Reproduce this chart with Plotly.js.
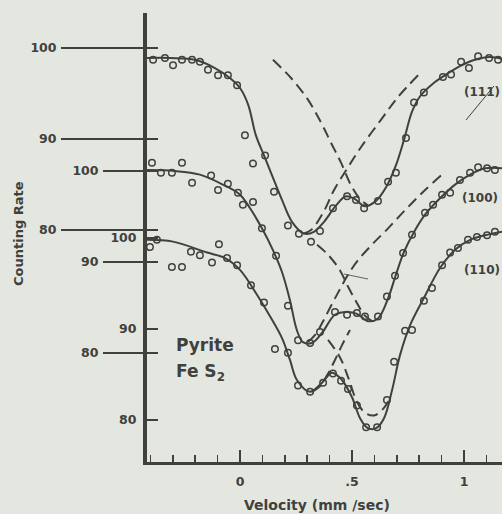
<!DOCTYPE html>
<html><head><meta charset="utf-8">
<script src="https://cdn.plot.ly/plotly-3.0.1.min.js"></script>
<style>html,body{margin:0;padding:0;background:#e4e7df;}#chart{width:502px;height:514px;}</style>
</head><body><div id="chart"></div>
<script>
// ---- Data (velocity in mm/sec, counting rate in % of baseline) ----
// (111) spectrum
const topX = [-0.388,-0.335,-0.299,-0.259,-0.214,-0.179,-0.143,-0.098,-0.054,-0.013,0.022,0.058,0.112,0.152,0.214,0.263,0.317,0.357,0.415,0.478,0.518,0.554,0.616,0.661,0.696,0.741,0.777,0.821,0.906,0.942,0.987,1.022,1.063,1.112,1.152];
const topY = [98.7,98.9,98.1,98.7,98.7,98.5,97.6,97.0,97.0,95.9,90.4,87.3,88.2,84.2,80.5,79.6,78.7,79.9,82.4,83.7,83.3,82.4,83.2,85.3,86.3,90.1,94.0,95.1,96.8,97.1,98.5,97.8,99.1,98.9,98.7];
const topFitX = [-0.415,-0.3125,-0.201,-0.112,-0.045,0,0.036,0.071,0.107,0.143,0.1875,0.232,0.286,0.330,0.375,0.429,0.473,0.513,0.558,0.607,0.652,0.696,0.732,0.768,0.804,0.857,0.915,0.982,1.049,1.116,1.170];
const topFitY = [98.9,98.9,98.7,97.8,96.7,95.6,93.8,90.4,88.2,86.0,83.3,80.9,79.6,79.8,80.9,82.7,83.7,83.4,82.6,83.2,84.7,87.1,89.9,93.0,94.7,96.0,97.0,98.0,98.7,99.0,98.8];
const topDashAX = [0.147,0.228,0.304,0.362,0.406,0.451,0.496,0.536,0.571];
const topDashAY = [98.7,96.7,94.3,91.8,89.6,87.4,84.9,83.4,82.7];
const topDashBX = [0.281,0.317,0.371,0.420,0.482,0.540,0.629,0.705,0.795];
const topDashBY = [79.6,80.0,81.9,84.4,86.9,89.1,92.1,94.6,97.0];

// (100) spectrum
const midX = [-0.393,-0.353,-0.304,-0.259,-0.214,-0.129,-0.098,-0.054,-0.009,0.013,0.058,0.098,0.161,0.214,0.259,0.313,0.357,0.424,0.478,0.522,0.558,0.616,0.656,0.692,0.728,0.768,0.826,0.862,0.902,0.938,0.982,1.027,1.063,1.103,1.138];
const midY = [100.9,99.8,99.8,100.9,98.7,99.5,97.9,98.6,97.6,96.3,96.6,93.7,90.7,85.2,81.4,81.1,82.3,84.5,84.2,84.4,84.0,84.0,86.2,88.5,91.0,93.0,95.4,96.3,97.4,97.6,99.0,99.8,100.4,100.3,100.1];
const midFitX = [-0.415,-0.290,-0.179,-0.076,0,0.045,0.098,0.147,0.1875,0.223,0.254,0.281,0.321,0.366,0.424,0.478,0.522,0.571,0.616,0.661,0.696,0.732,0.777,0.826,0.893,0.960,1.027,1.094,1.170];
const midFitY = [100.1,100.0,99.6,98.5,97.4,95.9,93.7,91.3,88.9,85.8,82.5,81.2,81.1,82.2,84.2,84.5,84.3,83.5,83.8,86.0,88.6,91.1,93.3,95.2,97.0,98.5,99.6,100.3,100.3];
const midDashCX = [0.344,0.393,0.446,0.482,0.522,0.554,0.589];
const midDashCY = [91.9,90.8,89.1,87.3,85.5,84.2,83.5];
const midDashDX = [0.304,0.339,0.371,0.411,0.446,0.482,0.527,0.589,0.661,0.737,0.817,0.902];
const midDashDY = [81.2,82.1,83.5,85.4,87.0,88.6,90.2,91.9,93.7,95.7,97.7,99.6];

// (110) spectrum
const botX = [-0.402,-0.371,-0.304,-0.259,-0.219,-0.179,-0.125,-0.094,-0.058,-0.013,0.049,0.107,0.156,0.214,0.259,0.313,0.371,0.415,0.451,0.482,0.522,0.563,0.612,0.656,0.688,0.737,0.768,0.821,0.857,0.902,0.938,0.973,1.018,1.058,1.103,1.138];
const botY = [99.0,99.8,96.8,96.8,98.5,98.1,97.3,99.3,97.8,97.0,94.8,92.9,87.8,87.4,83.8,83.1,84.1,85.1,84.3,83.4,81.6,79.2,79.2,82.2,86.4,89.8,89.9,93.1,94.5,97.0,98.4,98.9,99.8,100.1,100.3,100.7];
const botFitX = [-0.415,-0.299,-0.147,-0.067,0,0.080,0.134,0.1875,0.223,0.254,0.3125,0.366,0.411,0.455,0.5,0.536,0.571,0.607,0.643,0.679,0.714,0.759,0.821,0.893,0.960,1.027,1.094,1.170];
const botFitY = [99.8,99.6,98.4,97.8,96.5,93.6,91.4,89.0,86.6,84.4,83.1,84.1,85.2,84.4,82.5,80.2,79.1,79.1,80.2,83.3,87.1,90.4,93.4,96.7,98.7,99.8,100.3,100.7];
const botDashEX = [0.321,0.357,0.393,0.424,0.455,0.491];
const botDashEY = [83.1,83.7,85.1,86.6,88.2,89.9];
const botDashFX = [0.393,0.446,0.487,0.522,0.558,0.598,0.638,0.670];
const botDashFY = [88.8,86.9,84.4,82.0,80.8,80.5,81.2,82.4];

// tick labels
const xTickVals = [0, 0.5, 1];
const xTickText = ['0', '.5', '1'];
const yTickVals = [80, 90, 100];
const curveLabels = ['(111)', '(100)', '(110)'];

// ---- Layout geometry ----
const W = 502, H = 514;
const L = 147, R = 502, T = 13, B = 462;
const ppu = 9.1;           // pixels per counting-rate unit
const ppx = 224;           // pixels per mm/sec
const x0px = 240;          // pixel of velocity 0
function yr(p100) { return [100 - (B - p100) / ppu, 100 + (p100 - T) / ppu]; }
function fx(p) { return (p - L) / (R - L); }
function fy(p) { return (B - p) / (B - T); }

const ink = '#40413d';
const bg = '#e4e7df';
const tickFont = {family: 'DejaVu Sans, sans-serif', size: 12.5, color: ink, weight: 'bold'};
const axPos = fx(158);

function freeAxis(p100, ticklen, extra) {
  return Object.assign({
    range: yr(p100), tickmode: 'array', tickvals: yTickVals,
    ticks: 'outside', ticklen: ticklen, tickwidth: 1.6, tickcolor: ink,
    showline: false, showgrid: false, zeroline: false,
    anchor: 'free', position: axPos, side: 'left',
    tickfont: tickFont, ticklabelstandoff: 2, fixedrange: true
  }, extra || {});
}

const mk = {symbol: 'circle-open', size: 6.5, color: ink, line: {width: 1.5, color: ink}};
const fitLine = {color: ink, width: 2, shape: 'spline', smoothing: 1};
const dashLine = {color: ink, width: 2, dash: '11px,6px', shape: 'spline', smoothing: 1};

function spectrum(px, py, fX, fY, dashes, ax) {
  const out = [
    {x: fX, y: fY, mode: 'lines', line: fitLine, yaxis: ax, hoverinfo: 'skip'},
    {x: px, y: py, mode: 'markers', marker: mk, yaxis: ax}
  ];
  dashes.forEach(d => out.push({x: d[0], y: d[1], mode: 'lines', line: dashLine, yaxis: ax, hoverinfo: 'skip'}));
  return out;
}

const data = [].concat(
  spectrum(topX, topY, topFitX, topFitY, [[topDashAX, topDashAY], [topDashBX, topDashBY]], 'y'),
  spectrum(midX, midY, midFitX, midFitY, [[midDashCX, midDashCY], [midDashDX, midDashDY]], 'y2'),
  spectrum(botX, botY, botFitX, botFitY, [[botDashEX, botDashEY], [botDashFX, botDashFY]], 'y3')
).map(t => Object.assign({showlegend: false}, t));

const txt = (s, size, extra) => Object.assign({
  text: s, xref: 'paper', yref: 'paper', showarrow: false,
  font: {family: 'DejaVu Sans, sans-serif', size: size, color: ink, weight: 'bold'}
}, extra);

const layout = {
  width: W, height: H,
  margin: {l: L, r: W - R, t: T, b: H - B, pad: 0},
  paper_bgcolor: bg, plot_bgcolor: bg,
  showlegend: false,
  xaxis: {
    range: [(L - x0px) / ppx, (R - x0px) / ppx],
    tickmode: 'array', tickvals: xTickVals, ticktext: xTickText,
    ticks: 'inside', ticklen: 12, tickwidth: 2, tickcolor: ink,
    minor: {tickmode: 'linear', tick0: 0, dtick: 0.1, ticks: 'inside', ticklen: 7, tickwidth: 1.6, tickcolor: ink},
    showline: true, linewidth: 3, linecolor: ink,
    showgrid: false, zeroline: false, tickfont: tickFont, ticklabelstandoff: 6, fixedrange: true
  },
  yaxis: freeAxis(48, 97),
  yaxis2: freeAxis(171, 55, {overlaying: 'y'}),
  // (110) scale sits on the main vertical axis line, with short inside ticks
  yaxis3: {
    overlaying: 'y', anchor: 'x', side: 'left', range: yr(238),
    tickmode: 'array', tickvals: yTickVals,
    ticks: 'inside', ticklen: 11, tickwidth: 1.6, tickcolor: ink,
    showline: true, linewidth: 4, linecolor: ink,
    showgrid: false, zeroline: false, tickfont: tickFont, ticklabelstandoff: 4, fixedrange: true
  },
  annotations: [
    txt('Counting Rate', 13, {x: fx(18), y: fy(234), xanchor: 'center', yanchor: 'middle', textangle: -90}),
    txt('Velocity (mm /sec)', 14, {x: fx(317), y: fy(505), xanchor: 'center', yanchor: 'middle'}),
    txt('Pyrite', 17, {x: fx(174), y: fy(345), xanchor: 'left', yanchor: 'middle'}),
    txt('Fe S<sub>2</sub>', 17, {x: fx(174), y: fy(372), xanchor: 'left', yanchor: 'middle'}),
    txt(curveLabels[0], 12, {x: fx(462), y: fy(92), xanchor: 'left', yanchor: 'middle'}),
    txt(curveLabels[1], 12, {x: fx(460), y: fy(198), xanchor: 'left', yanchor: 'middle'}),
    txt(curveLabels[2], 12, {x: fx(462), y: fy(270), xanchor: 'left', yanchor: 'middle'})
  ],
  shapes: [
    {type: 'line', xref: 'paper', yref: 'paper', x0: fx(466), y0: fy(120), x1: fx(494), y1: fy(86), line: {color: ink, width: 1}},
    {type: 'line', xref: 'paper', yref: 'paper', x0: fx(344), y0: fy(274), x1: fx(368), y1: fy(279), line: {color: ink, width: 0.8}}
  ]
};

Plotly.newPlot('chart', data, layout, {displayModeBar: false, staticPlot: true});
</script></body></html>
